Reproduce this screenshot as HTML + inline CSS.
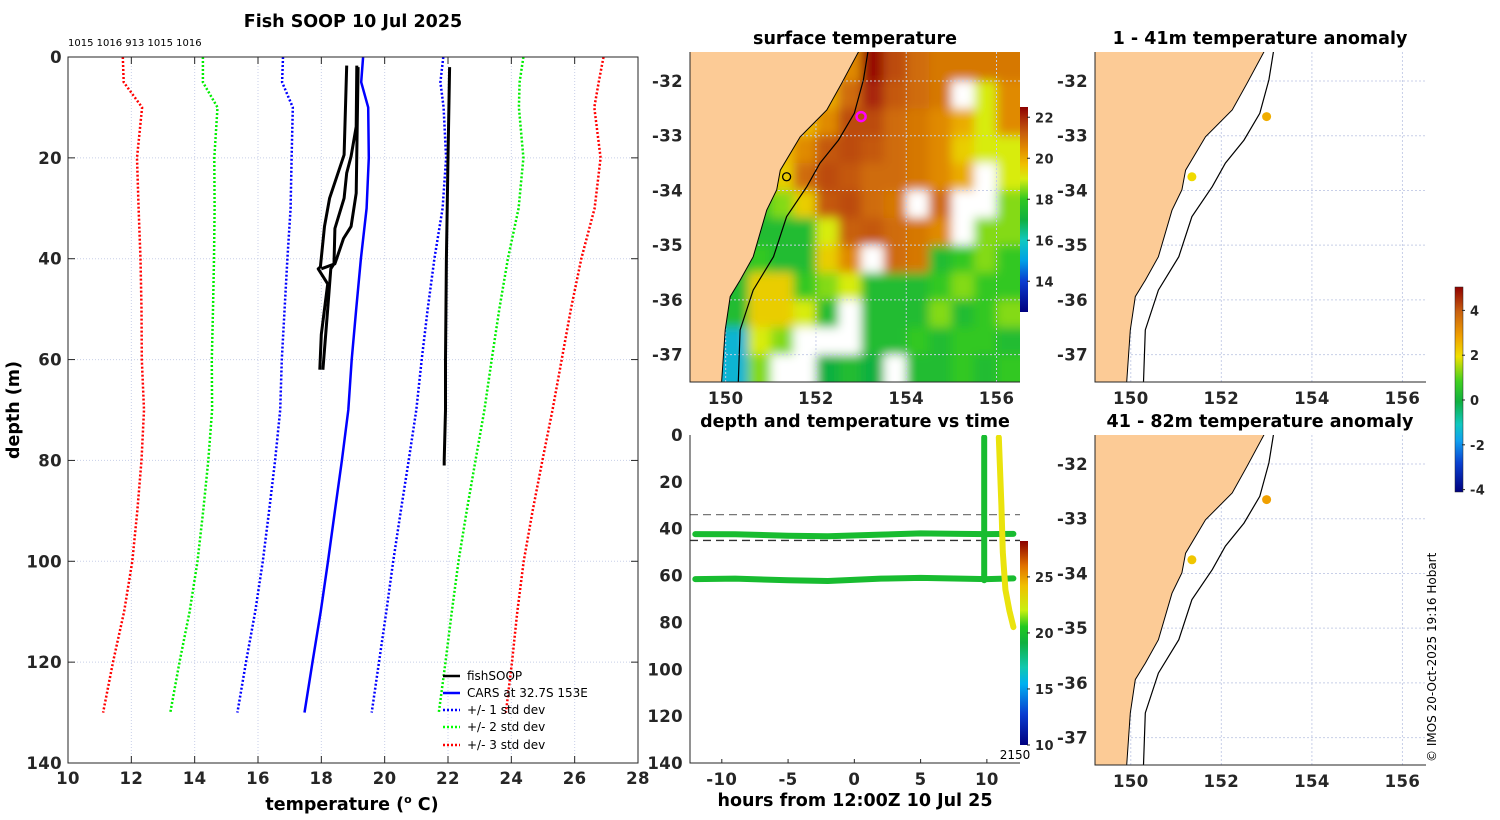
<!DOCTYPE html>
<html><head><meta charset="utf-8"><style>
html,body{margin:0;padding:0;background:#fff}
svg{display:block;font-family:"Liberation Sans","DejaVu Sans",sans-serif}
.tk{font-family:"DejaVu Sans","Liberation Sans",sans-serif;font-weight:bold;font-size:16.5px;letter-spacing:0.4px;fill:#262626}
.ttl{font-family:"DejaVu Sans","Liberation Sans",sans-serif;font-weight:bold;font-size:17.5px;fill:#000}
.lg{font-family:"DejaVu Sans","Liberation Sans",sans-serif;font-size:12px;fill:#000}
</style></head><body>
<svg id="fig" width="1500" height="820" viewBox="0 0 1500 820">
<defs>
<clipPath id="clipMain"><rect x="68" y="57" width="570" height="706"/></clipPath>
<clipPath id="clipSurf"><rect x="690" y="52" width="330" height="330"/></clipPath>
<clipPath id="clipA1"><rect x="1095" y="52" width="331" height="330"/></clipPath>
<clipPath id="clipA2"><rect x="1095" y="435" width="331" height="330"/></clipPath>
<clipPath id="clipDT"><rect x="690" y="435" width="330" height="328"/></clipPath>
<filter id="soft" x="-5%" y="-5%" width="110%" height="110%"><feGaussianBlur stdDeviation="5"/></filter>
<linearGradient id="gSurf" x1="0" y1="1" x2="0" y2="0">
<stop offset="0" stop-color="#00007f"/><stop offset="0.15" stop-color="#0a3cd0"/><stop offset="0.25" stop-color="#00a0e6"/><stop offset="0.35" stop-color="#10c8c0"/><stop offset="0.45" stop-color="#10b040"/><stop offset="0.55" stop-color="#30c820"/><stop offset="0.65" stop-color="#d8ec10"/><stop offset="0.72" stop-color="#f0c000"/><stop offset="0.8" stop-color="#e08a00"/><stop offset="0.87" stop-color="#c8600c"/><stop offset="0.95" stop-color="#a82808"/><stop offset="1" stop-color="#8b0000"/>
</linearGradient>
<linearGradient id="gDT" x1="0" y1="1" x2="0" y2="0">
<stop offset="0" stop-color="#00007f"/><stop offset="0.15" stop-color="#0a3cd0"/><stop offset="0.3" stop-color="#00b0f0"/><stop offset="0.38" stop-color="#10c8b0"/><stop offset="0.5" stop-color="#10b040"/><stop offset="0.58" stop-color="#20c820"/><stop offset="0.66" stop-color="#c8f010"/><stop offset="0.78" stop-color="#f0c000"/><stop offset="0.88" stop-color="#e07000"/><stop offset="1" stop-color="#8b0000"/>
</linearGradient>
<linearGradient id="gAn" x1="0" y1="1" x2="0" y2="0">
<stop offset="0" stop-color="#00007f"/><stop offset="0.14" stop-color="#0a40d0"/><stop offset="0.25" stop-color="#10a0f0"/><stop offset="0.33" stop-color="#10c8c0"/><stop offset="0.44" stop-color="#10b040"/><stop offset="0.54" stop-color="#40d020"/><stop offset="0.66" stop-color="#f0e000"/><stop offset="0.76" stop-color="#f0a000"/><stop offset="0.88" stop-color="#c86010"/><stop offset="1" stop-color="#900000"/>
</linearGradient>
</defs>

<text class="ttl" x="353" y="27" text-anchor="middle">Fish SOOP 10 Jul 2025</text>
<text x="68" y="46" font-size="10" fill="#000" font-family="DejaVu Sans, Liberation Sans, sans-serif">1015 1016 913 1015 1016</text>
<g id="mainGrid"></g>
<g id="mainLines" clip-path="url(#clipMain)"></g>
<rect x="68" y="57" width="570" height="706" fill="none" stroke="#262626" stroke-width="1"/>
<g id="mainTicks"></g>
<text class="ttl" x="352" y="810" text-anchor="middle">temperature (<tspan font-size="11" dy="-7">o</tspan><tspan dy="7"> C)</tspan></text>
<text class="ttl" transform="translate(19,410) rotate(-90)" text-anchor="middle">depth (m)</text>

<g>
<line x1="443" y1="676" x2="460" y2="676" stroke="#000" stroke-width="2.5"/>
<text class="lg" x="467" y="680">fishSOOP</text>
<line x1="443" y1="693" x2="460" y2="693" stroke="#0000ff" stroke-width="2.5"/>
<text class="lg" x="467" y="697">CARS at 32.7S 153E</text>
<line x1="443" y1="710" x2="460" y2="710" stroke="#0000ff" stroke-width="2.5" stroke-dasharray="2,2"/>
<text class="lg" x="467" y="714">+/- 1 std dev</text>
<line x1="443" y1="727" x2="460" y2="727" stroke="#00ff00" stroke-width="2.5" stroke-dasharray="2,2"/>
<text class="lg" x="467" y="731">+/- 2 std dev</text>
<line x1="443" y1="745" x2="460" y2="745" stroke="#ff0000" stroke-width="2.5" stroke-dasharray="2,2"/>
<text class="lg" x="467" y="749">+/- 3 std dev</text>
</g>

<text class="ttl" x="855" y="44" text-anchor="middle">surface temperature</text>
<g id="surf"></g>
<text class="ttl" x="1260" y="44" text-anchor="middle">1 - 41m temperature anomaly</text>
<g id="an1"></g>
<text class="ttl" x="1260" y="427" text-anchor="middle">41 - 82m temperature anomaly</text>
<g id="an2"></g>
<text class="ttl" x="855" y="427" text-anchor="middle">depth and temperature vs time</text>
<g id="dt"></g>
<text class="ttl" x="855" y="806" text-anchor="middle">hours from 12:00Z 10 Jul 25</text>

<g id="cbs">
<rect x="1020" y="107" width="8" height="205" fill="url(#gSurf)"/>
<rect x="1020" y="541" width="8" height="204" fill="url(#gDT)"/>
<rect x="1455" y="287" width="8" height="205" fill="url(#gAn)" stroke="#262626" stroke-width="0.5"/>
</g>
<text x="1015" y="759" font-size="12" fill="#000" font-family="DejaVu Sans, sans-serif" text-anchor="middle">2150</text>
<text transform="translate(1436,762) rotate(-90)" font-size="12" fill="#000" font-family="DejaVu Sans, Liberation Sans, sans-serif">© IMOS 20-Oct-2025 19:16 Hobart</text>
</svg>
<script>
// ---------- main profile chart data ----------
const depthLevels = [0,5,10,20,30,40,50,60,70,80,90,100,110,120,130];
const carsMean = [19.32,19.26,19.48,19.5,19.43,19.25,19.1,18.96,18.85,18.65,18.43,18.21,17.98,17.72,17.47];
const carsStd = [2.53,2.5,2.38,2.44,2.4,2.32,2.26,2.21,2.15,2.11,2.08,2.06,2.07,2.1,2.12];
const xTicks = [10,12,14,16,18,20,22,24,26,28];
const yTicks = [0,20,40,60,80,100,120,140];
const prof1Depth = [1.7,19.4,28,33.6,41.6,42,45,50,55,62];
const prof1Temp = [18.8,18.72,18.26,18.1,17.97,17.9,18.2,18.1,18.0,17.95];
const prof2Depth = [1.7,13.8,19.7,23,28,34,41,42,50,62];
const prof2Temp = [19.12,19.1,18.94,18.8,18.72,18.43,18.4,18.3,18.2,18.05];
const prof3Depth = [2,27,33.6,36,41,42];
const prof3Temp = [19.16,19.1,18.94,18.7,18.43,18.0];
const prof4Depth = [2,20,40,60,70,80,81];
const prof4Temp = [22.05,22.0,21.95,21.92,21.92,21.88,21.88];

// ---------- depth-time data ----------
const dtHours = [-12,-9,-5,-2,2,5,8,10,12];
const dtUpper = [42.3,42.4,43,43.2,42.5,42,42.2,42.3,42.2];
const dtLower = [61.5,61.3,62,62.3,61.3,61,61.3,61.5,61.2];
const dtLineTemp = 18.5;
const dtVertHour = 9.8;
const dtVertDepth = [1,62];
const dtDescHours = [10.9,11.1,11.2,11.4,11.7,12.0];
const dtDescDepth = [1,30,50,66,75,82];
const dtDescTemp = 21.6;
const dtXTicks = [-10,-5,0,5,10];
const dtYTicks = [0,20,40,60,80,100,120,140];
const dtDashDepth = [34,45];

// ---------- map data ----------
const gridLons = [149.25,149.75,150.25,150.75,151.25,151.75,152.25,152.75,153.25,153.75,154.25,154.75,155.25,155.75,156.25];
const gridLats = [-31.75,-32.25,-32.75,-33.25,-33.75,-34.25,-34.75,-35.25,-35.75,-36.25,-36.75,-37.25];
const sstRow0 = [20,20,20,20,20,20,20,20.5,22.3,21.5,21,20.8,20.8,20.8,20.8];
const sstRow1 = [20,20,20,20,20,20,20,21,22,21.3,21,20.8,null,19,20.5];
const sstRow2 = [20,20,20,20,20,19.8,20.5,21.5,21.5,21,20.8,20.5,20,19,20.5];
const sstRow3 = [20,20,20,20,19.8,20.5,21.3,21.5,21.3,21,20.8,20.5,19.5,19,19];
const sstRow4 = [20,20,20,20,19.5,21,21.5,21.3,21,21,20.8,20.5,20,null,19];
const sstRow5 = [18,18,18,18,18.5,19.5,21.3,21.5,21,20.8,null,21,null,null,18.5];
const sstRow6 = [17.5,17.5,17.5,17.5,17.5,17.5,19,21.2,21.3,21,20.8,20.5,null,18.5,18.5];
const sstRow7 = [17.5,17.5,17.5,18,17.5,17.5,19.5,20.5,null,21,20.8,17.5,18,18.5,18];
const sstRow8 = [17.5,17.5,17.5,19.5,19.5,18,18.5,19,17.5,17.5,17.5,18,18.5,18,18];
const sstRow9 = [17.5,17.5,17.5,19.5,19.5,19,17.5,null,17.5,17.5,17.5,18.5,17.5,18,18.5];
const sstRow10 = [15.5,15.5,15.5,19,18.5,null,null,null,17.5,17.5,18,17.5,18,18,17.5];
const sstRow11 = [15.5,15.5,15.5,18.5,null,null,17,17.5,17,null,17.5,17.5,18,17.5,18];
const coastLat = [-31.3,-31.47,-32.04,-32.53,-33.02,-33.63,-33.99,-34.36,-35.21,-35.64,-35.94,-36.55,-37.5,-37.7];
const coastLon = [152.98,152.94,152.57,152.24,151.65,151.21,151.13,150.91,150.61,150.32,150.1,149.99,149.91,149.9];
const isoLat = [-31.3,-31.47,-31.98,-32.59,-33.08,-33.5,-33.93,-34.48,-35.21,-35.82,-36.55,-37.5,-37.7];
const isoLon = [153.18,153.15,153.05,152.85,152.5,152.09,151.8,151.35,151.06,150.61,150.32,150.28,150.28];
const stnLon = [153.0,151.35];
const stnLat = [-32.65,-33.75];
const anomShallow = [2.8,2.1];
const anomDeep = [3.0,2.4];
const latTicks = [-32,-33,-34,-35,-36,-37];
const lonTicks = [150,152,154,156];
const sstTicks = [14,16,18,20,22];
const dtCbTicks = [10,15,20,25];
const anCbTicks = [-4,-2,0,2,4];

const NS='http://www.w3.org/2000/svg';
function mk(tag,attrs,parent){const e=document.createElementNS(NS,tag);for(const k in attrs)e.setAttribute(k,attrs[k]);parent.appendChild(e);return e;}

const mx = t => 68 + (t-10)*570/18;
const my = d => 57 + d*706/140;
const mainGrid=document.getElementById('mainGrid');
const mainLines=document.getElementById('mainLines');
const mainTicks=document.getElementById('mainTicks');
xTicks.forEach(t=>{
  if(t>10&&t<28){const g=mk('line',{x1:mx(t),y1:57,x2:mx(t),y2:763,stroke:'#c8cfe8','stroke-width':1,'stroke-dasharray':'1,2'},mainGrid);
  
  }
  const a=mk('line',{x1:mx(t),y1:763,x2:mx(t),y2:756,stroke:'#262626'},mainTicks);
  
  
  const b=mk('line',{x1:mx(t),y1:57,x2:mx(t),y2:64,stroke:'#262626'},mainTicks);
  
  
  const l=mk('text',{x:mx(t),y:784,'text-anchor':'middle',class:'tk'},mainTicks);l.textContent=t;
  
  
});
yTicks.forEach(d=>{
  if(d>0&&d<140){const g=mk('line',{x1:68,y1:my(d),x2:638,y2:my(d),stroke:'#c8cfe8','stroke-width':1,'stroke-dasharray':'1,2'},mainGrid);
  
  }
  const a=mk('line',{x1:68,y1:my(d),x2:75,y2:my(d),stroke:'#262626'},mainTicks);
  
  
  const b=mk('line',{x1:638,y1:my(d),x2:631,y2:my(d),stroke:'#262626'},mainTicks);
  
  
  const l=mk('text',{x:62,y:my(d)+6,'text-anchor':'end',class:'tk'},mainTicks);l.textContent=d;
  
  
});
function line(temps,depths,color,width,dash,name){
  const pts=temps.map((t,i)=>mx(t).toFixed(1)+','+my(depths[i]).toFixed(1)).join(' ');
  const a={points:pts,fill:'none',stroke:color,'stroke-width':width,'stroke-linejoin':'round'};
  if(dash)a['stroke-dasharray']=dash;
  const p=mk('polyline',a,mainLines);
  
  
}
[[3,'#ff0000'],[2,'#00ee00'],[1,'#0000ff']].forEach(([k,c])=>{
  line(carsMean.map((m,i)=>m-k*carsStd[i]),depthLevels,c,2.5,'2,2','minus-'+k+'-std-line');
  line(carsMean.map((m,i)=>m+k*carsStd[i]),depthLevels,c,2.5,'2,2','plus-'+k+'-std-line');
});
line(carsMean,depthLevels,'#0000ff',2.5,null,'cars-mean-line');
line(prof1Temp,prof1Depth,'#000',3,null,'fishsoop-profile-1');
line(prof2Temp,prof2Depth,'#000',3,null,'fishsoop-profile-2');
line(prof3Temp,prof3Depth,'#000',3,null,'fishsoop-profile-3');
line(prof4Temp,prof4Depth,'#000',3,null,'fishsoop-profile-4');

function interp(stops,v){
  if(v<=stops[0][0])return stops[0][1];
  for(let i=1;i<stops.length;i++){if(v<=stops[i][0]){const [a,ca]=stops[i-1],[b,cb]=stops[i];const f=(v-a)/(b-a);
    const h=c=>[1,3,5].map(j=>parseInt(c.substr(j,2),16));const A=h(ca),B=h(cb);
    return 'rgb('+A.map((x,j)=>Math.round(x+(B[j]-x)*f)).join(',')+')';}}
  return stops[stops.length-1][1];
}
const sstStops=[[12.5,'#00007f'],[14,'#0a3cd0'],[15,'#00a0e6'],[16,'#10c8c0'],[17,'#10b040'],[18,'#30c820'],[19,'#d8ec10'],[19.7,'#f0c000'],[20.5,'#e08a00'],[21.2,'#c8600c'],[22,'#a82808'],[22.5,'#8b0000']];
const dtStops=[[10,'#00007f'],[13,'#0a3cd0'],[15.5,'#00b0f0'],[17,'#10c8b0'],[18,'#10b040'],[19,'#20c820'],[21,'#e8ec10'],[24,'#f0c000'],[26,'#e07000'],[28,'#8b0000']];
const anStops=[[-4.2,'#00007f'],[-3,'#0a40d0'],[-2,'#10a0f0'],[-1.2,'#10c8c0'],[0,'#10b040'],[1,'#40d020'],[2,'#f0e000'],[3,'#f0a000'],[4,'#c86010'],[5.2,'#900000']];

function makeMap(gid,x0,x1,y0,y1,clip,opts){
  const g=document.getElementById(gid);
  const lonMin=149.21,lonMax=156.52,latTop=-31.47,latBot=-37.5;
  const px=lon=>x0+(lon-lonMin)*(x1-x0)/(lonMax-lonMin);
  const py=lat=>y0+(latTop-lat)*(y1-y0)/(latTop-latBot);
  const inner=mk('g',{'clip-path':'url(#'+clip+')'},g);
  
  
  if(opts.sst){
    const cells=mk('g',{filter:'url(#soft)'},inner);
    
    
    const rows=[sstRow0,sstRow1,sstRow2,sstRow3,sstRow4,sstRow5,sstRow6,sstRow7,sstRow8,sstRow9,sstRow10,sstRow11];
    rows.forEach((row,r)=>row.forEach((v,c)=>{
      const xa=px(gridLons[c]-0.25),xb=px(gridLons[c]+0.25),ya=py(gridLats[r]+0.25),yb=py(gridLats[r]-0.25);
      const pad=(c===14?12:0);
      const padT=(r===0?12:0),padB=(r===11?12:0);
      const cell=mk('rect',{x:xa.toFixed(1),y:(ya-padT).toFixed(1),width:(xb-xa+0.6+pad).toFixed(1),height:(yb-ya+0.6+padT+padB).toFixed(1),fill:v===null?'#ffffff':interp(sstStops,v)},cells);
      
      
    }));
  }
  latTicks.forEach(l=>{const e=mk('line',{x1:x0,x2:x1,y1:py(l),y2:py(l),stroke:'#c8cfe8','stroke-dasharray':'2,2'},inner);
    
    });
  lonTicks.forEach(l=>{const e=mk('line',{x1:px(l),x2:px(l),y1:y0,y2:y1,stroke:'#c8cfe8','stroke-dasharray':'2,2'},inner);
    
    });
  let d='M'+(x0-5)+','+(y0-5);
  coastLat.forEach((la,i)=>{d+=' L'+px(coastLon[i]).toFixed(1)+','+py(la).toFixed(1);});
  d+=' L'+(x0-5)+','+(y1+5)+' Z';
  const land=mk('path',{d:d,fill:'#fccb96',stroke:'#000','stroke-width':1},inner);
  
  
  const iso=mk('polyline',{points:isoLat.map((la,i)=>px(isoLon[i]).toFixed(1)+','+py(la).toFixed(1)).join(' '),fill:'none',stroke:'#000','stroke-width':1.2},inner);
  
  
  if(opts.sst){
    const c1=mk('circle',{cx:px(stnLon[0]),cy:py(stnLat[0]),r:4.5,fill:'none',stroke:'#ff00ff','stroke-width':2.5},inner);
    
    
    const c2=mk('circle',{cx:px(stnLon[1]),cy:py(stnLat[1]),r:4,fill:'none',stroke:'#000','stroke-width':1.3},inner);
    
    
  }
  if(opts.anom){
    opts.anom.forEach((v,i)=>{const c=mk('circle',{cx:px(stnLon[i]),cy:py(stnLat[i]),r:4.5,fill:interp(anStops,v)},inner);
      
      });
  }
  const ax=mk('path',{d:'M'+x0+','+y0+' L'+x0+','+y1+' L'+x1+','+y1,fill:'none',stroke:'#262626'},g);
  
  
  latTicks.forEach(l=>{const t=mk('text',{x:x0-7,y:py(l)+6,'text-anchor':'end',class:'tk'},g);t.textContent=l;
    
    });
  lonTicks.forEach(l=>{const t=mk('text',{x:px(l),y:y1+22,'text-anchor':'middle',class:'tk'},g);t.textContent=l;
    
    });
}
makeMap('surf',690,1020,52,382,'clipSurf',{sst:true});
makeMap('an1',1095,1426,52,382,'clipA1',{anom:anomShallow});
makeMap('an2',1095,1426,435,765,'clipA2',{anom:anomDeep});

(function(){
  const g=document.getElementById('dt');
  const x=h=>690+(h+12.4)*330/24.9;
  const y=d=>435+d*328/140;
  const inner=mk('g',{'clip-path':'url(#clipDT)'},g);
  
  
  dtDashDepth.forEach((d,i)=>{const e=mk('line',{x1:690,x2:1020,y1:y(d),y2:y(d),stroke:i?'#333':'#777','stroke-width':1.3,'stroke-dasharray':'8,5'},inner);
    
    });
  const pl=(hs,ds,c,name)=>{const p=mk('polyline',{points:hs.map((h,i)=>x(h).toFixed(1)+','+y(ds[i]).toFixed(1)).join(' '),fill:'none',stroke:c,'stroke-width':6,'stroke-linecap':'round','stroke-linejoin':'round'},inner);
    
    };
  const gc=interp(dtStops,dtLineTemp);
  pl(dtHours,dtUpper,gc,'upper-sensor-track');
  pl(dtHours,dtLower,gc,'lower-sensor-track');
  pl([dtVertHour,dtVertHour],dtVertDepth,gc,'profile-cast-track');
  pl(dtDescHours,dtDescDepth,interp(dtStops,dtDescTemp),'descent-track');
  const ax=mk('path',{d:'M690,435 L690,763 L1020,763',fill:'none',stroke:'#262626'},g);
  
  
  dtXTicks.forEach(h=>{const t=mk('text',{x:x(h),y:785,'text-anchor':'middle',class:'tk'},g);t.textContent=h;
    
    
    const k=mk('line',{x1:x(h),x2:x(h),y1:763,y2:759,stroke:'#262626'},g);
    
    });
  dtYTicks.forEach(d=>{const t=mk('text',{x:683,y:y(d)+6,'text-anchor':'end',class:'tk'},g);t.textContent=d;
    
    });
})();

(function(){
  const g=document.getElementById('cbs');
  const add=(vals,x,yf,name)=>vals.forEach(v=>{const yy=yf(v);
    const k=mk('line',{x1:x-3,x2:x,y1:yy,y2:yy,stroke:'#262626'},g);
    
    
    const t=mk('text',{x:x+5,y:yy+5,class:'tk'},g);t.textContent=v;t.style.fontSize='13px';
    
    });
  add(sstTicks,1030,v=>312-(v-12.5)*205/10,'surface-colorbar');
  add(dtCbTicks,1030,v=>745-(v-10)*204/18.2,'depth-time-colorbar');
  add(anCbTicks,1465,v=>400-v*22.4,'anomaly-colorbar');
})();
</script>
</body></html>
